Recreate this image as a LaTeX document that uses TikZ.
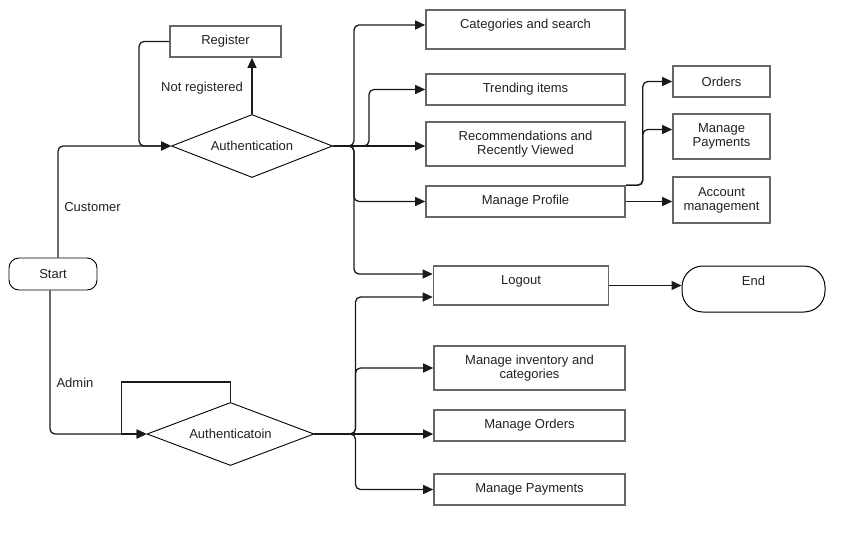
\documentclass[tikz,border=0pt]{standalone}
\usepackage{fontspec}
\setmainfont{Liberation Sans}
\usetikzlibrary{arrows.meta,shapes.geometric}
\definecolor{boxgray}{HTML}{666666}
\definecolor{linec}{HTML}{1A1A1A}
\definecolor{txtc}{HTML}{222222}
\newcommand\dfont{\fontsize{13}{14}\selectfont}
\begin{document}
\begin{tikzpicture}[x=1pt,y=-1pt,
  box/.style={draw=boxgray, line width=1.6pt, fill=white, font=\dfont, text=txtc,
    align=center, inner sep=0pt},
  dia/.style={draw=black, line width=0.9pt, fill=white, shape=diamond, aspect=2.6, font=\dfont,
    text=txtc, inner sep=0pt},
  lbl/.style={font=\dfont, text=txtc, inner sep=0pt},
  conn/.style={draw=linec, line width=1.3pt, rounded corners=5pt,
    -{Triangle[length=10pt,width=9pt]}},
]
\useasboundingbox (0,0) rectangle (865,546);

% nodes
\node[box, minimum width=111pt, minimum height=31pt] (reg) at (225.5,41.5) {Register};
\node[dia, minimum width=161pt, minimum height=63pt] (auth) at (252,146) {Authentication};
\node[box, draw=black, line width=0.9pt, rounded corners=10pt, minimum width=88pt, minimum height=32pt] (start) at (53,274) {Start};

\node[box, minimum width=199pt, minimum height=39pt] (cat) at (525.5,29.5) {};
\node[lbl] (catT) at (525.5,25) {Categories and search};
\node[box, minimum width=199pt, minimum height=31pt] (trend) at (525.5,89.5) {Trending items};
\node[box, minimum width=199pt, minimum height=44pt] (rec) at (525.5,144) {Recommendations and\\Recently Viewed};
\node[box, minimum width=199pt, minimum height=31pt] (prof) at (525.5,201.5) {Manage Profile};

\node[box, minimum width=97pt, minimum height=31pt] (ord) at (721.5,81.5) {Orders};
\node[box, minimum width=97pt, minimum height=45pt] (pay) at (721.5,136.5) {Manage\\Payments};
\node[box, minimum width=97pt, minimum height=46pt] (acct) at (721.5,200) {Account\\management};

\node[box, minimum width=175pt, minimum height=39pt] (logout) at (521,285.5) {};
\node[lbl] (logoutT) at (521,281) {Logout};
\node[box, draw=black, line width=1pt, rounded corners=21pt, minimum width=143pt, minimum height=46pt] (endn) at (753.5,289) {};
\node[lbl] (endT) at (753.5,281) {End};

\node[dia, minimum width=167pt, minimum height=63pt] (auth2) at (230.5,434) {Authenticatoin};
\node[box, minimum width=191pt, minimum height=44pt] (inv) at (529.5,368) {Manage inventory and\\categories};
\node[box, minimum width=191pt, minimum height=31pt] (mord) at (529.5,425.5) {Manage Orders};
\node[box, minimum width=191pt, minimum height=31pt] (mpay) at (529.5,489.5) {Manage Payments};

% labels
\node[lbl] (lcust) at (92.5,207) {Customer};
\node[lbl] (lnotreg) at (202,88) {Not registered};
\node[lbl] (ladmin) at (75,383) {Admin};

% customer side
\draw[conn] ([xshift=5pt]start.north) |- (auth.west);
\draw[conn] (auth.north) -- (auth.north |- reg.south);
\draw[conn] (reg.west) -| ([xshift=-32pt]auth.west) -- (auth.west);

\draw[conn] (auth.east) -- ++(21,0) |- ([yshift=4.5pt]cat.west);
\draw[conn] (auth.east) -- ++(36,0) |- (trend.west);
\draw[conn] (auth.east) -- (auth.east -| rec.west);
\draw[conn] (auth.east) -- ++(21,0) |- (prof.west);
\draw[conn] (auth.east) -- ++(21,0) |- ([yshift=11.5pt]logout.west);

\draw[conn] (prof.north east) -- ++(17,0) |- (ord.west);
\draw[conn] (prof.north east) -- ++(17,0) |- ([yshift=7pt]pay.west);
\draw[conn] (prof.east) -- (prof.east -| acct.west);

\draw[conn] (logout.east) -- (logout.east -| endn.west);

% admin side
\draw[conn] ([xshift=-3pt]start.south) |- (auth2.west);
\draw[conn, rounded corners=0pt] (auth2.north) -- ++(0,-20) -| ([xshift=-25pt]auth2.west) -- (auth2.west);
\draw[conn] (auth2.east) -- ++(41,0) |- ([yshift=-11.5pt]logout.west);
\draw[conn] (auth2.east) -- ++(41,0) |- (inv.west);
\draw[conn] (auth2.east) -- (auth2.east -| mord.west);
\draw[conn] (auth2.east) -- ++(41,0) |- (mpay.west);
\end{tikzpicture}
\end{document}
